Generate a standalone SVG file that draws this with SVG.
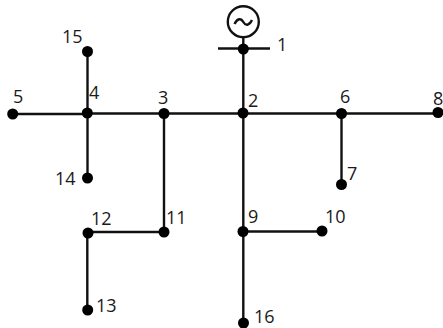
<svg xmlns="http://www.w3.org/2000/svg" width="443" height="328" viewBox="0 0 443 328">
<style>
.l{stroke:#111;stroke-width:2.4;fill:none}
.d{fill:#000}
text{font-family:"Open Sans","Noto Sans",sans-serif;font-size:18px;fill:#1a1a1a}
</style>
<rect width="443" height="328" fill="#fff"/>
<g id="connectors">
<path class="l" d="M243.3 37V70M243.3 70V323"/>
<path class="l" d="M218 48.500H270"/>
<path class="l" d="M13 114H87M87 113.500H243M243 113.500H438"/>
<path class="l" d="M87.500 52V178"/>
<path class="l" d="M164 113V232H88M87.300 233V310"/>
<path class="l" d="M341.500 113V184"/>
<path class="l" d="M243 231.500H322"/>
</g>
<g id="generator"><circle cx="243.300" cy="21.700" r="15.500" fill="#fff" stroke="#111" stroke-width="2.400"/><path class="l" d="M234.500 24C237.500 18 241 18 243.300 22S249 26 252 20"/></g>
<g id="n1"><circle class="d" cx="243.300" cy="49" r="5.500"/><text x="277" y="51">1</text></g>
<g id="n2"><circle class="d" cx="243" cy="113" r="5.500"/><text x="248" y="107">2</text></g>
<g id="n3"><circle class="d" cx="164" cy="113.500" r="5.500"/><text x="158" y="104">3</text></g>
<g id="n4"><circle class="d" cx="87.300" cy="113" r="5.500"/><text x="89" y="99">4</text></g>
<g id="n5"><circle class="d" cx="12.700" cy="114" r="5.500"/><text x="13" y="103">5</text></g>
<g id="n6"><circle class="d" cx="341.500" cy="113.500" r="5.500"/><text x="340" y="103">6</text></g>
<g id="n7"><circle class="d" cx="341.500" cy="184.500" r="5.500"/><text x="347" y="180">7</text></g>
<g id="n8"><circle class="d" cx="438" cy="112.500" r="5.500"/><text x="433" y="105">8</text></g>
<g id="n9"><circle class="d" cx="243" cy="231.500" r="5.500"/><text x="248" y="223">9</text></g>
<g id="n10"><circle class="d" cx="322" cy="231" r="5.500"/><text x="325" y="223">10</text></g>
<g id="n11"><circle class="d" cx="164" cy="232" r="5.500"/><text x="166" y="224">11</text></g>
<g id="n12"><circle class="d" cx="88" cy="233" r="5.500"/><text x="91" y="225">12</text></g>
<g id="n13"><circle class="d" cx="87.700" cy="310" r="5.500"/><text x="96" y="312">13</text></g>
<g id="n14"><circle class="d" cx="87.500" cy="178" r="5.500"/><text x="55" y="185">14</text></g>
<g id="n15"><circle class="d" cx="87.500" cy="51.500" r="5.500"/><text x="62" y="43">15</text></g>
<g id="n16"><circle class="d" cx="243.500" cy="323" r="5.500"/><text x="254" y="323">16</text></g>
</svg>
